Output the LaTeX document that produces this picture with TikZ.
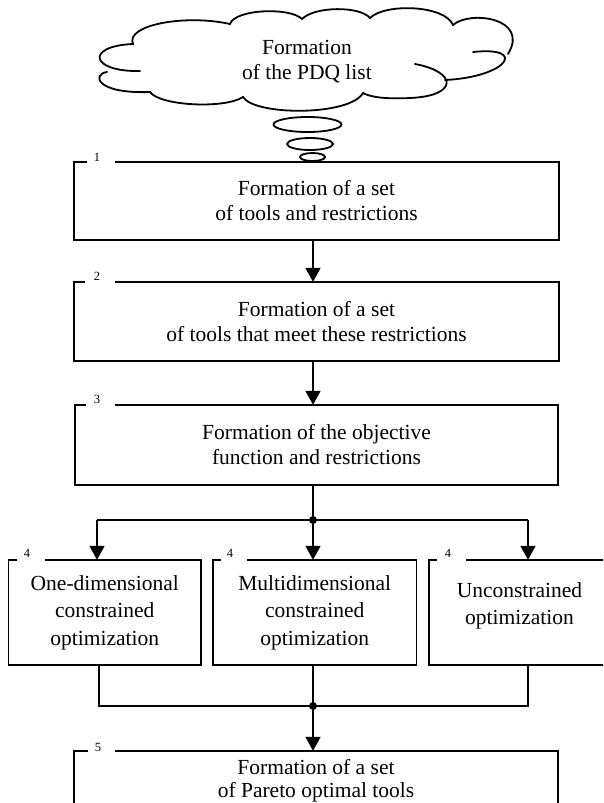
\documentclass[tikz,border=0pt]{standalone}
\usepackage{fontspec}
\setmainfont{Liberation Serif}
\usetikzlibrary{arrows.meta}
\tikzset{
  boxnode/.style={draw=none, inner sep=0pt, align=center, font=\fontsize{21.5}{25}\selectfont},
  boxfour/.style={boxnode, font=\fontsize{21.5}{27.5}\selectfont},
  outline/.style={line width=1.5pt, line join=miter},
  conn/.style={line width=1.8pt},
  arr/.style={conn, -{Triangle[width=15pt,length=14pt]}},
  num/.style={inner sep=0pt, font=\fontsize{12.5}{14}\selectfont},
  cloudline/.style={line width=1.8pt, line cap=round},
  txt/.style={align=center, inner sep=0pt, font=\fontsize{21.5}{25}\selectfont}
}
\begin{document}
\begin{tikzpicture}[x=1pt, y=-1pt]
\useasboundingbox (0,0) rectangle (603,803);
\clip (0,0) rectangle (603,803);
\fill[white] (0,0) rectangle (603,803);

% cloud
\draw[cloudline] (140,71) .. controls (90,72) and (85,46) .. (133,44)
  .. controls (125,25) and (185,14) .. (230,24)
  .. controls (235,9) and (290,7) .. (302,19)
  .. controls (315,6) and (360,6) .. (370,18)
  .. controls (385,3) and (445,5) .. (453,25)
  .. controls (470,10) and (530,18) .. (508,54);
\draw[cloudline] (473,52) .. controls (528,46) and (508,77) .. (445,80);
\draw[cloudline] (415,64) .. controls (458,72) and (458,96) .. (410,98)
  .. controls (390,99) and (372,98) .. (363,93)
  .. controls (350,116) and (255,116) .. (243,97)
  .. controls (225,109) and (160,106) .. (150,92)
  .. controls (95,94) and (92,74) .. (107,72);
\node[txt] (cloudtext) at (307,62) {Formation\\of the PDQ list};
\draw[cloudline] (307.5,124.5) ellipse (34 and 7.5);
\draw[cloudline] (310,144) ellipse (23 and 6);
\draw[cloudline] (312.5,157) ellipse (12.5 and 4);

% boxes
\node[boxnode, minimum width=485pt, minimum height=78pt] (b1) at (316.5,201) {Formation of a set\\of tools and restrictions};
\node[boxnode, minimum width=485pt, minimum height=79pt] (b2) at (316.5,321.5) {Formation of a set\\of tools that meet these restrictions};
\node[boxnode, minimum width=483pt, minimum height=80pt] (b3) at (316.5,445) {Formation of the objective\\function and restrictions};
\node[boxfour, minimum width=192.5pt, minimum height=105pt] (b4a) at (104.75,612.5) {One-dimensional\\constrained\\optimization};
\node[boxfour, minimum width=203.5pt, minimum height=105pt] (b4b) at (314.75,612.5) {Multidimensional\\constrained\\optimization};
\node[boxfour, minimum width=181pt, minimum height=105pt] (b4c) at (519.5,612.5) {};
\node[boxfour] (t4c) at (519.5,606) {Unconstrained\\optimization};
\node[boxnode, minimum width=484pt, minimum height=78pt] (b5) at (316,790) {};
\node[txt, font=\fontsize{21.5}{23}\selectfont] (t5) at (316,781) {Formation of a set\\of Pareto optimal tools};

% outlines with gaps for numbers
\foreach \b/\ga/\gb in {b1/13/41, b2/11/41, b3/11/40, b4a/9/36.5, b4b/8/34, b4c/8/37, b5/14/41}{
  \draw[outline] ([xshift=\ga pt]\b.north west) -- (\b.north west) -- (\b.south west) -- (\b.south east) -- (\b.north east) -- ([xshift=\gb pt]\b.north west);
}
\node[num] (n1) at (97,157) {1};
\node[num] (n2) at (97,276) {2};
\node[num] (n3) at (97,399) {3};
\node[num] (n4a) at (27,553) {4};
\node[num] (n4b) at (230,553) {4};
\node[num] (n4c) at (448,553) {4};
\node[num] (n5) at (98,747) {5};

% connectors
\coordinate (j1) at (313,520);
\coordinate (j2) at (313,706);
\coordinate (ta) at (97,520);
\coordinate (tc) at (528,520);
\coordinate (ba) at (99,706);
\coordinate (bc) at (528,706);
\draw[arr] (b1.south -| j1) -- (b2.north -| j1);
\draw[arr] (b2.south -| j1) -- (b3.north -| j1);
\draw[conn] (b3.south -| j1) -- (j1);
\draw[conn] (ta) -- (tc);
\draw[arr] (ta) -- (b4a.north -| ta);
\draw[arr] (j1) -- (b4b.north -| j1);
\draw[arr] (tc) -- (b4c.north -| tc);
\draw[conn] (b4a.south -| ba) -- (ba) -- (bc) -- (b4c.south -| bc);
\draw[conn] (b4b.south -| j2) -- (j2);
\draw[arr] (j2) -- (b5.north -| j2);
\fill (j1) circle (4);
\fill (j2) circle (4);
\end{tikzpicture}
\end{document}
